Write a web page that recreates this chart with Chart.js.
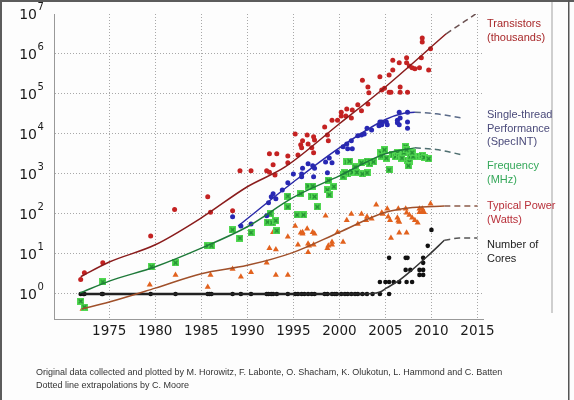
<!DOCTYPE html>
<html>
<head>
<meta charset="utf-8">
<script src="https://cdn.jsdelivr.net/npm/chart.js@4/dist/chart.umd.min.js"></script>
<style>
  html, body { margin: 0; padding: 0; background: #fff; }
  #wrap { width: 574px; height: 400px; }
</style>
</head>
<body>
<div id="wrap"><canvas id="trendChart" width="574" height="400"></canvas></div>
<script>
// ticks
const yearTicks = [1975, 1980, 1985, 1990, 1995, 2000, 2005, 2010, 2015];
const decadeExps = [0, 1, 2, 3, 4, 5, 6, 7];

// scatter data, [year, value]
const transistors = [
  [1971.9, 2.3], [1972.3, 3.4], [1974.3, 6], [1979.5, 28], [1982.1, 130], [1985.7, 270], [1986.0, 110],
  [1988.4, 120], [1989.2, 1200], [1990.4, 1200], [1992.1, 1200], [1992.4, 1100], [1992.8, 1700], [1993.0, 950],
  [1992.4, 3200], [1993.2, 3200], [1994.4, 2800], [1994.4, 1900], [1995.2, 10000], [1995.5, 3000],
  [1995.8, 5400], [1996.0, 6800], [1995.9, 4500], [1996.5, 9500], [1996.6, 5600], [1997.0, 4500],
  [1997.2, 8500], [1997.3, 7100], [1997.2, 3400], [1998.4, 15000], [1998.7, 9500], [1998.8, 6800],
  [1999.2, 22000], [1999.8, 22000], [2000.2, 35000], [2000.8, 42000], [2000.2, 28000], [2000.7, 28000],
  [2001.3, 25000], [2001.4, 40000], [2002.0, 54000], [2002.4, 38000], [2003.1, 56000], [2002.5, 220000],
  [2003.1, 150000], [2003.2, 107000], [2004.4, 270000], [2004.6, 125000], [2004.9, 140000], [2005.4, 300000],
  [2005.8, 700000], [2005.8, 400000], [2005.4, 110000], [2005.6, 110000], [2006.5, 600000], [2006.6, 150000],
  [2006.6, 110000], [2007.3, 800000], [2007.3, 600000], [2007.6, 500000], [2007.9, 450000], [2008.2, 430000],
  [2007.4, 110000], [2008.7, 450000], [2008.9, 800000], [2009.0, 2500000], [2009.0, 2000000],
  [2009.7, 400000], [2009.9, 1350000]
];
const singleThread = [
  [1988.4, 85], [1989.3, 50], [1990.4, 56], [1992.1, 90], [1992.3, 190], [1992.6, 270], [1992.8, 320],
  [1993.1, 240], [1993.8, 400], [1994.4, 600], [1995.0, 1000], [1995.9, 1000], [1995.9, 850], [1996.0, 1400],
  [1996.6, 1800], [1997.1, 1600], [1997.3, 1400], [1997.2, 850], [1998.5, 2000], [1998.9, 2500],
  [1999.2, 1900], [1998.7, 1070], [1999.8, 3500], [2000.4, 4800], [2000.8, 5600], [2000.9, 4300],
  [2001.3, 6800], [2001.4, 4300], [2002.0, 9000], [2002.4, 9500], [2002.7, 10000], [2003.0, 14000],
  [2003.5, 12600], [2004.3, 16000], [2004.6, 20000], [2004.4, 20000], [2004.6, 17000], [2005.1, 20000],
  [2005.2, 17000], [2006.3, 22000], [2006.6, 25000], [2006.3, 19000], [2006.5, 17000], [2006.5, 35000],
  [2007.4, 35000], [2007.4, 20000], [2007.4, 14000]
];
const frequency = [
  [1971.9, 0.66], [1972.3, 0.47], [1974.3, 2], [1979.6, 4.8], [1982.2, 6], [1985.7, 16], [1986.1, 16],
  [1988.4, 40], [1989.2, 25], [1990.4, 34], [1992.2, 63], [1992.5, 100], [1992.7, 60], [1993.1, 68],
  [1993.2, 38], [1994.4, 280], [1994.4, 150], [1995.4, 95], [1996.1, 95], [1995.8, 320], [1996.6, 500],
  [1997.1, 500], [1997.0, 280], [1997.3, 270], [1997.6, 150], [1998.7, 400], [1998.9, 300], [1998.8, 700],
  [1999.4, 480], [2000.4, 950], [2000.9, 1000], [2001.4, 1100], [2000.8, 2000], [2001.1, 2100],
  [2000.4, 850], [2000.6, 1070], [2001.7, 1500], [2001.9, 1100], [2002.4, 1900], [2003.0, 2100],
  [2002.5, 1000], [2003.0, 1070], [2003.3, 1800], [2003.7, 2000], [2004.5, 3400], [2004.6, 2800],
  [2004.9, 4000], [2005.1, 2500], [2005.4, 1260], [2005.8, 3000], [2006.1, 2700], [2006.3, 3400],
  [2006.5, 2700], [2006.8, 2500], [2007.0, 3400], [2007.2, 4800], [2007.3, 4000], [2007.4, 2200],
  [2007.6, 2000], [2007.7, 2700], [2008.0, 2700], [2007.9, 3400], [2007.5, 1600], [2008.7, 2800],
  [2008.9, 2700], [2009.0, 2900], [2009.2, 2600], [2009.7, 2400]
];
const power = [
  [1972.1, 0.42], [1972.4, 0.42], [1979.4, 1.7], [1982.2, 3], [1985.7, 1.5], [1986.0, 3], [1988.4, 4.2],
  [1989.3, 2.7], [1990.4, 3.5], [1992.1, 6], [1992.4, 14], [1992.8, 35], [1993.1, 13], [1993.1, 3],
  [1994.4, 27], [1994.4, 3], [1995.2, 50], [1995.5, 17], [1995.8, 34], [1996.0, 35], [1996.0, 32],
  [1996.5, 43], [1996.6, 18], [1996.7, 16], [1996.6, 11], [1997.1, 35], [1997.3, 32], [1997.2, 17],
  [1998.5, 90], [1998.7, 14], [1998.8, 16], [1999.2, 20], [1999.2, 17], [1999.8, 35], [2000.4, 20],
  [2000.8, 70], [2001.3, 100], [2002.0, 56], [2002.4, 100], [2002.9, 70], [2003.0, 85], [2003.5, 76],
  [2004.0, 170], [2004.6, 107], [2004.7, 100], [2005.3, 85], [2005.5, 70], [2005.2, 135], [2005.6, 25],
  [2006.3, 80], [2006.4, 68], [2006.5, 63], [2006.5, 34], [2006.4, 135], [2007.2, 135], [2007.3, 34],
  [2007.3, 107], [2007.6, 95], [2007.9, 80], [2008.2, 70], [2008.5, 60], [2008.7, 110], [2009.0, 110],
  [2009.2, 110], [2008.7, 135], [2009.0, 135], [2009.9, 180]
];
const cores = [
  [1971.9, 1], [1972.2, 1], [1972.3, 1], [1974.2, 1], [1974.3, 1], [1979.5, 1], [1982.2, 1], [1985.7, 1],
  [1985.9, 1], [1986.1, 1], [1988.4, 1], [1989.3, 1], [1990.4, 1], [1992.1, 1], [1992.3, 1], [1992.6, 1],
  [1992.8, 1], [1993.2, 1], [1994.4, 1], [1995.2, 1], [1995.5, 1], [1995.9, 1], [1996.2, 1], [1996.6, 1],
  [1997.0, 1], [1997.3, 1], [1998.4, 1], [1998.7, 1], [1999.2, 1], [1999.5, 1], [1999.7, 1], [2000.2, 1],
  [2000.6, 1], [2000.9, 1], [2001.3, 1], [2001.7, 1], [2002.0, 1], [2002.5, 1], [2003.0, 1], [2003.6, 1],
  [2004.4, 1], [2005.4, 1],
  [2004.4, 2], [2005.0, 2], [2005.4, 2], [2005.9, 2], [2006.5, 2], [2007.3, 2], [2007.9, 2],
  [2005.4, 8], [2007.2, 8], [2007.4, 8], [2007.2, 4], [2007.7, 4], [2008.7, 4], [2009.1, 4],
  [2008.7, 3], [2009.1, 3], [2009.1, 8], [2009.1, 6], [2009.6, 16], [2010.0, 40]
];

// fitted trend lines (solid) and extrapolations (dashed), [year, value]
const transistorTrend = [[1971.9, 2.7], [1975, 6.3], [1980, 17], [1985, 80], [1990, 480], [1994.1, 1500], [2000, 18000], [2004.6, 126000], [2011.6, 3200000]];
const transistorDash = [[2011.6, 3200000], [2014.8, 10000000]];
const singleTrend = [[1989, 50], [1995, 630], [2000, 4500], [2005, 23000], [2007, 33000], [2008.2, 35000]];
const singleDash = [[2008.2, 35000], [2010.5, 32000], [2013.4, 25000]];
const freqTrend = [[1971.8, 1.05], [1975, 2.1], [1980, 4.8], [1985, 14], [1990, 48], [1995, 260], [2000, 900], [2005, 3200], [2008.2, 4500]];
const freqDash = [[2008.2, 4500], [2010.5, 4100], [2013.4, 3000]];
const powerTrend = [[1972, 0.42], [1975, 0.63], [1980, 1.4], [1985, 3.2], [1990, 5.2], [1995, 11], [2000, 35], [2005, 110], [2008, 145], [2011.4, 158]];
const powerDash = [[2011.4, 158], [2015, 158]];
const coresFlat = [[1972, 1], [2003, 1]];
const coresTrend = [[2003, 1], [2004.4, 1.12], [2005.1, 1.4], [2006.5, 2.2], [2007.9, 4], [2009.5, 8.5], [2011.4, 22]];
const coresDash = [[2011.4, 22], [2013, 25], [2015, 25]];

const pts = arr => arr.map(p => ({ x: p[0], y: p[1] }));

function freqMarker() {
  const m = document.createElement('canvas');
  m.width = 7; m.height = 7;
  const g = m.getContext('2d');
  g.fillStyle = '#52d852';
  g.fillRect(0, 0, 7, 7);
  g.strokeStyle = '#1f8a30';
  g.lineWidth = 1.2;
  g.beginPath();
  g.moveTo(1.5, 1.5); g.lineTo(5.5, 5.5);
  g.moveTo(5.5, 1.5); g.lineTo(1.5, 5.5);
  g.stroke();
  return m;
}

function trend(data, color, width, dash) {
  return {
    data: pts(data), showLine: true, borderColor: color, borderWidth: width,
    borderDash: dash || [], pointRadius: 0, cubicInterpolationMode: 'monotone', order: 0
  };
}
function dots(data, style, color, radius) {
  return {
    data: pts(data), showLine: false, pointStyle: style, pointRadius: radius,
    backgroundColor: color, borderColor: color, borderWidth: 0, order: 1
  };
}

const labelFont = '11px "Liberation Sans", Arial, sans-serif';
const seriesLabels = [
  { lines: ['Transistors', '(thousands)'], y: 24, color: '#a8282a' },
  { lines: ['Single-thread', 'Performance', '(SpecINT)'], y: 115, color: '#4a4a7a' },
  { lines: ['Frequency', '(MHz)'], y: 166, color: '#35a85a' },
  { lines: ['Typical Power', '(Watts)'], y: 206, color: '#b8303a' },
  { lines: ['Number of', 'Cores'], y: 245, color: '#222' }
];
const footnotes = [
  'Original data collected and plotted by M. Horowitz, F. Labonte, O. Shacham, K. Olukotun, L. Hammond and C. Batten',
  'Dotted line extrapolations by C. Moore'
];

const decor = {
  id: 'decor',
  beforeDraw(chart) {
    const c = chart.ctx;
    c.save();
    c.fillStyle = '#fdfdfd';
    c.fillRect(0, 0, 574, 400);
    c.fillStyle = '#5c5c5c';
    c.fillRect(0, 0, 574, 2);
    c.fillRect(0, 0, 2, 400);
    c.fillStyle = '#555';
    c.fillRect(568, 0, 1.5, 400);
    c.fillStyle = '#cfcfcf';
    c.fillRect(551, 2, 2, 311);
    c.restore();
  },
  afterDraw(chart) {
    const c = chart.ctx;
    const ys = chart.scales.y;
    c.save();
    c.fillStyle = '#1a1a1a';
    c.textBaseline = 'middle';
    decadeExps.forEach(e => {
      const py = ys.getPixelForValue(Math.pow(10, e));
      c.font = '14px "DejaVu Sans", sans-serif';
      c.textAlign = 'right';
      c.fillText('10', 37, py + 1);
      c.font = '10px "DejaVu Sans", sans-serif';
      c.textAlign = 'left';
      c.fillText(String(e), 37.5, py - 7);
    });
    c.font = labelFont;
    c.textAlign = 'left';
    seriesLabels.forEach(s => {
      c.fillStyle = s.color;
      s.lines.forEach((t, i) => c.fillText(t, 487, s.y + i * 13.5));
    });
    c.font = '9px "Liberation Sans", Arial, sans-serif';
    c.fillStyle = '#333';
    footnotes.forEach((t, i) => c.fillText(t, 36, 373 + i * 12.5));
    c.restore();
  }
};

const ctx = document.getElementById('trendChart').getContext('2d');
new Chart(ctx, {
  type: 'scatter',
  data: {
    datasets: [
      trend(transistorTrend, '#8a1c1c', 1.5),
      trend(transistorDash, '#6a5050', 1.5, [6, 4]),
      trend(singleTrend, '#2a2aa8', 1.5),
      trend(singleDash, '#5a6a88', 1.5, [6, 4]),
      trend(freqTrend, '#1f7a3a', 1.5),
      trend(freqDash, '#4f6f70', 1.5, [6, 4]),
      trend(powerTrend, '#a0502a', 1.5),
      trend(powerDash, '#8a5a48', 1.5, [6, 4]),
      trend(coresFlat, '#222', 2.5),
      trend(coresTrend, '#333', 1.5),
      trend(coresDash, '#555', 1.5, [6, 4]),
      dots(transistors, 'circle', '#c42222', 2.5),
      dots(singleThread, 'circle', '#2828b4', 2.5),
      dots(frequency, freqMarker(), '#52d852', 3.5),
      dots(power, 'triangle', '#e2621e', 3.5),
      dots(cores, 'circle', '#111', 2.3)
    ]
  },
  options: {
    responsive: false,
    animation: false,
    events: [],
    layout: { padding: { top: 14, right: 91, bottom: 50, left: 0 } },
    plugins: { legend: { display: false }, tooltip: { enabled: false } },
    scales: {
      x: {
        type: 'linear',
        min: 1969.0,
        max: 2015.6,
        afterBuildTicks: s => { s.ticks = yearTicks.map(v => ({ value: v })); },
        afterFit: s => { s.height = 31; },
        grid: { color: '#a8a8a8', lineWidth: 1, drawTicks: false },
        border: { color: '#999', width: 1, dash: [1, 2] },
        ticks: {
          padding: 4,
          color: '#1a1a1a',
          font: { family: 'DejaVu Sans', size: 13.5 },
          callback: v => String(v)
        }
      },
      y: {
        type: 'logarithmic',
        min: 0.237,
        max: 1e7,
        afterBuildTicks: s => { s.ticks = decadeExps.map(e => ({ value: Math.pow(10, e) })); },
        afterFit: s => { s.width = 54; },
        grid: {
          color: c => (c.tick && c.tick.value >= 1e7) ? 'rgba(0,0,0,0)' : '#a8a8a8',
          lineWidth: 1,
          drawTicks: false
        },
        border: { color: '#999', width: 1, dash: [1, 2] },
        ticks: { display: false }
      }
    }
  },
  plugins: [decor]
});
</script>
</body>
</html>
